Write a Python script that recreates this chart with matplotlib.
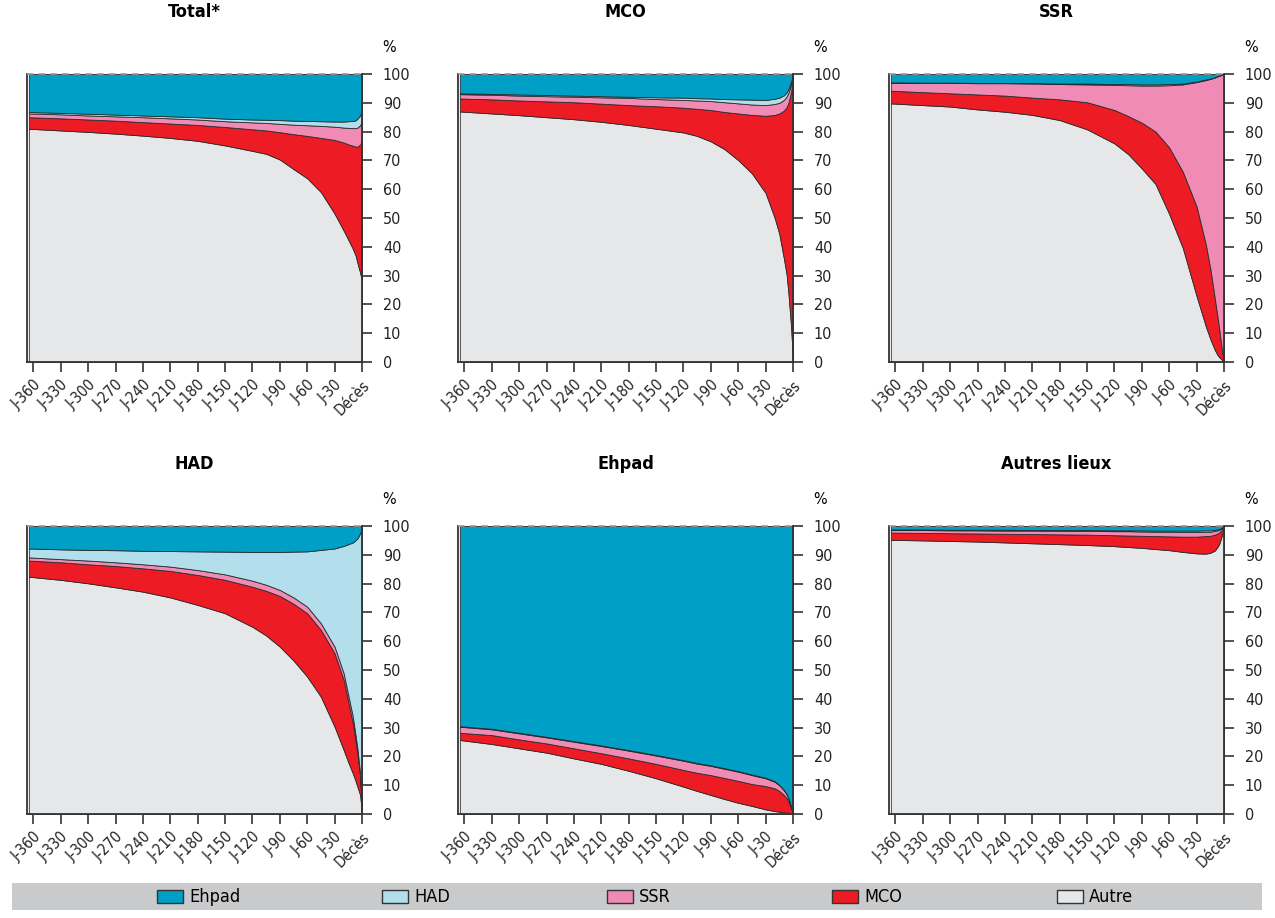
import numpy as np
import matplotlib
matplotlib.use('Agg')
from matplotlib import pyplot as plt
from matplotlib import font_manager
from matplotlib.patches import Rectangle

# condensed font if the system has one, otherwise Liberation Sans
cond = font_manager.findfont(font_manager.FontProperties(family='DejaVu Sans', stretch='condensed'))
if 'Condensed' in cond:
    plt.rcParams['font.family'] = ['DejaVu Sans']
    plt.rcParams['font.stretch'] = 'condensed'
else:
    plt.rcParams['font.family'] = ['Liberation Sans', 'DejaVu Sans']

days = [-365, -330, -300, -270, -240, -210, -180, -150, -120, -105, -90, -75, -60, -45,
        -30, -20, -15, -10, -7, -5, -2, 0]
tick_days = list(range(-360, 1, 30))
tick_labels = ['J-360', 'J-330', 'J-300', 'J-270', 'J-240', 'J-210', 'J-180', 'J-150',
               'J-120', 'J-90', 'J-60', 'J-30', 'Décès']

series_names = ['Autre', 'MCO', 'SSR', 'HAD', 'Ehpad']
colors = ['#e6e7e8', '#ed1c24', '#f08bb5', '#b3dfec', '#00a0c6']

# shares (%) per panel: autre, mco, ssr, had, ehpad
total = [
    [81, 80.4, 79.9, 79.3, 78.6, 77.8, 76.8, 75.2, 73.3, 72.3, 70.3, 67, 63.8, 59, 51.5, 45.6, 42.5, 39.3, 37, 34.5, 31, 28],
    [4, 4.2, 4.3, 4.5, 4.7, 5.0, 5.5, 6.4, 7.5, 8.1, 9.5, 12.1, 14.7, 18.8, 25.6, 30.6, 33.1, 35.8, 37.8, 40.3, 44.5, 49],
    [1.3, 1.4, 1.4, 1.5, 1.7, 1.8, 1.9, 2.0, 2.4, 2.6, 2.9, 3.3, 3.7, 4.2, 4.6, 5.2, 5.7, 6.1, 6.4, 6.6, 6.7, 6.8],
    [0.5, 0.5, 0.6, 0.6, 0.6, 0.7, 0.8, 0.9, 1.0, 1.1, 1.3, 1.4, 1.5, 1.6, 1.8, 2.1, 2.3, 2.5, 2.7, 3.1, 3.4, 4.2],
    [13.2, 13.5, 13.8, 14.1, 14.4, 14.7, 15, 15.5, 15.8, 15.9, 16, 16.2, 16.3, 16.4, 16.5, 16.5, 16.4, 16.3, 16.1, 15.5, 14.4, 12],
]
mco = [
    [87, 86.3, 85.7, 85, 84.3, 83.4, 82.3, 81, 79.7, 78.5, 76.6, 73.9, 70.1, 65.5, 58.7, 50, 44.5, 36, 30.5, 24, 12, 0],
    [4.5, 4.9, 5.1, 5.5, 5.9, 6.3, 6.9, 7.8, 8.6, 9.4, 10.9, 12.9, 16.2, 20.3, 26.8, 35.8, 41.8, 51.3, 58, 66, 82, 100],
    [1.5, 1.6, 1.7, 1.8, 1.9, 2.2, 2.5, 2.5, 2.7, 2.9, 3.1, 3.4, 3.5, 3.6, 3.7, 3.8, 3.7, 3.7, 3.7, 3.5, 2.5, 0],
    [0.3, 0.3, 0.4, 0.4, 0.4, 0.4, 0.4, 0.6, 0.8, 0.8, 0.9, 1.1, 1.4, 1.7, 1.8, 1.8, 1.8, 1.6, 1.4, 1.3, 1.0, 0],
    [6.7, 6.9, 7.1, 7.3, 7.5, 7.7, 7.9, 8.1, 8.2, 8.4, 8.5, 8.7, 8.8, 8.9, 9, 8.6, 8.2, 7.4, 6.4, 5.2, 2.5, 0],
]
ssr = [
    [89.8, 89.2, 88.7, 87.7, 86.9, 85.8, 84, 80.8, 75.9, 72.2, 67.2, 61.8, 51.4, 39.5, 22.9, 12.5, 8, 4.2, 2.4, 1.6, 0.7, 0],
    [4.4, 4.5, 4.6, 5.2, 5.6, 6, 7.2, 9.4, 11.6, 13.2, 15.9, 18.2, 23.1, 26.5, 31.1, 28.5, 24.5, 17.8, 13.1, 9.4, 2.8, 0],
    [2.8, 3.2, 3.6, 3.9, 4.3, 4.9, 5.3, 6.2, 8.7, 10.7, 12.9, 16, 21.6, 30.4, 43.2, 56.9, 65.8, 76.8, 83.7, 88.4, 94.8, 100],
    [0.1, 0.1, 0.1, 0.1, 0.1, 0.2, 0.2, 0.3, 0.3, 0.4, 0.4, 0.4, 0.4, 0.3, 0.2, 0.2, 0.1, 0.1, 0.1, 0.1, 0, 0],
    [2.9, 3.0, 3.0, 3.1, 3.1, 3.1, 3.3, 3.3, 3.5, 3.5, 3.6, 3.6, 3.5, 3.3, 2.6, 1.9, 1.6, 1.1, 0.7, 0.5, 0.2, 0],
]
had = [
    [82.4, 81.3, 80.1, 78.7, 77.2, 75.2, 72.6, 69.7, 65, 62, 58.1, 53.3, 47.7, 40.7, 30.3, 22.2, 18, 14.1, 11.5, 9.5, 6.6, 0],
    [5.6, 6.1, 6.6, 7.4, 8.1, 9.2, 10.4, 11.6, 13.9, 15.5, 17.6, 19.7, 22, 23.2, 25.5, 24.3, 21, 17.4, 14, 11.6, 6.4, 0],
    [1.1, 1.1, 1.3, 1.3, 1.4, 1.5, 1.7, 1.9, 2.1, 2.1, 2.1, 2.2, 2.3, 2.3, 2.3, 2.3, 2.3, 2.3, 1.8, 1.7, 1.1, 0],
    [3.1, 3.4, 3.7, 4.2, 4.7, 5.4, 6.5, 7.9, 10, 11.4, 13.2, 15.9, 19.2, 25.5, 34.1, 44.3, 52.4, 60.5, 67.8, 72.9, 83.4, 100],
    [7.8, 8.1, 8.3, 8.4, 8.6, 8.7, 8.8, 8.9, 9, 9, 9, 8.9, 8.8, 8.3, 7.8, 6.9, 6.3, 5.7, 4.9, 4.3, 2.5, 0],
]
ehpad = [
    [25.7, 24.3, 22.8, 21.3, 19.3, 17.4, 15, 12.4, 9.5, 8, 6.6, 5.2, 3.9, 2.8, 1.6, 1, 0.8, 0.6, 0.5, 0.4, 0.2, 0],
    [2.5, 3.1, 3.1, 3.2, 3.5, 3.7, 4.3, 5, 5.8, 6.3, 6.9, 7.3, 7.6, 7.6, 8.1, 7.9, 7.2, 6, 5.0, 3.9, 1.8, 0],
    [2.1, 2, 2.1, 2.1, 2.3, 2.5, 2.7, 2.9, 3.2, 3.2, 3.2, 3.2, 3.2, 3.1, 2.7, 2.3, 2.0, 1.7, 1.4, 1.1, 0.5, 0],
    [0.2, 0.2, 0.2, 0.2, 0.2, 0.2, 0.2, 0.2, 0.2, 0.2, 0.2, 0.2, 0.2, 0.2, 0.2, 0.2, 0.1, 0.1, 0.1, 0.1, 0, 0],
    [69.5, 70.4, 71.8, 73.2, 74.7, 76.2, 77.8, 79.5, 81.3, 82.3, 83.1, 84.1, 85.1, 86.3, 87.4, 88.6, 89.9, 91.6, 93.0, 94.5, 97.5, 100],
]
autres = [
    [95.2, 95, 94.8, 94.6, 94.3, 94, 93.7, 93.4, 93, 92.7, 92.4, 92, 91.6, 91, 90.5, 90.4, 90.7, 91.5, 92.8, 94, 97, 100],
    [2.5, 2.6, 2.7, 2.8, 3.0, 3.2, 3.4, 3.6, 3.8, 4.0, 4.2, 4.5, 4.8, 5.3, 5.8, 6.1, 5.9, 5.5, 4.6, 3.8, 1.8, 0],
    [0.9, 1, 1, 1.1, 1.1, 1.2, 1.2, 1.3, 1.4, 1.5, 1.5, 1.5, 1.6, 1.6, 1.6, 1.5, 1.4, 1.3, 1.1, 0.9, 0.5, 0],
    [0.2, 0.2, 0.2, 0.2, 0.3, 0.2, 0.3, 0.3, 0.3, 0.3, 0.4, 0.4, 0.4, 0.5, 0.5, 0.5, 0.5, 0.4, 0.4, 0.3, 0.2, 0],
    [1.2, 1.2, 1.3, 1.3, 1.3, 1.4, 1.4, 1.4, 1.5, 1.5, 1.5, 1.6, 1.6, 1.6, 1.6, 1.5, 1.5, 1.3, 1.1, 1.0, 0.5, 0],
]

panels = [('Total*', total), ('MCO', mco), ('SSR', ssr),
          ('HAD', had), ('Ehpad', ehpad), ('Autres lieux', autres)]

W, H = 1275, 918
fig = plt.figure(figsize=(W / 100, H / 100), dpi=100)

lefts = [27, 458, 889]
tops = [74, 526]
aw, ah = 335, 288

for i, (title, data) in enumerate(panels):
    r, c = divmod(i, 3)
    x0, y0 = lefts[c], tops[r]
    ax = fig.add_axes([x0 / W, 1 - (y0 + ah) / H, aw / W, ah / H])
    vals = np.array(data, dtype=float)
    vals = vals / vals.sum(axis=0) * 100
    ax.stackplot(days, vals, colors=colors, edgecolor='#2b2b2b', linewidth=0.6)
    ax.plot([-367, 0], [100, 100], ls=(0, (4, 3)), color='#9a9a9a', lw=1.2, clip_on=False, zorder=5)
    ax.set_xlim(-367, 0)
    ax.set_ylim(0, 100)
    ax.yaxis.tick_right()
    ax.set_yticks(range(0, 101, 10))
    ax.set_xticks(tick_days)
    ax.set_xticklabels(tick_labels, rotation=45, ha='right', rotation_mode='anchor')
    ax.tick_params(axis='both', direction='out', length=7, width=1.2, colors='#333333',
                   labelsize=11.5, labelcolor='#222222')
    ax.tick_params(axis='y', pad=8)
    ax.tick_params(axis='x', pad=4, labelsize=11)
    ax.spines['top'].set_visible(False)
    for s in ['left', 'right', 'bottom']:
        ax.spines[s].set_color('#333333')
        ax.spines[s].set_linewidth(1.3)
    fig.text((x0 + aw / 2) / W, 1 - (y0 - 62) / H, title, ha='center', va='center',
             fontsize=13, fontweight='bold')
    fig.text((x0 + aw + 27) / W, 1 - (y0 - 27) / H, '%', ha='center', va='center', fontsize=11.5)

# legend band
fig.add_artist(Rectangle((12 / W, 1 - 910 / H), 1250 / W, 27 / H, transform=fig.transFigure,
                         facecolor='#c9cacc', edgecolor='none'))
leg_x = [157, 382, 607, 832, 1057]
leg_order = [4, 3, 2, 1, 0]
for lx, k in zip(leg_x, leg_order):
    fig.add_artist(Rectangle((lx / W, 1 - 903 / H), 26 / W, 13 / H, transform=fig.transFigure,
                             facecolor=colors[k], edgecolor='#333333', linewidth=1))
    fig.text((lx + 32) / W, 1 - 896.5 / H, series_names[k], ha='left', va='center', fontsize=13)

fig.savefig('out.png', dpi=100)
